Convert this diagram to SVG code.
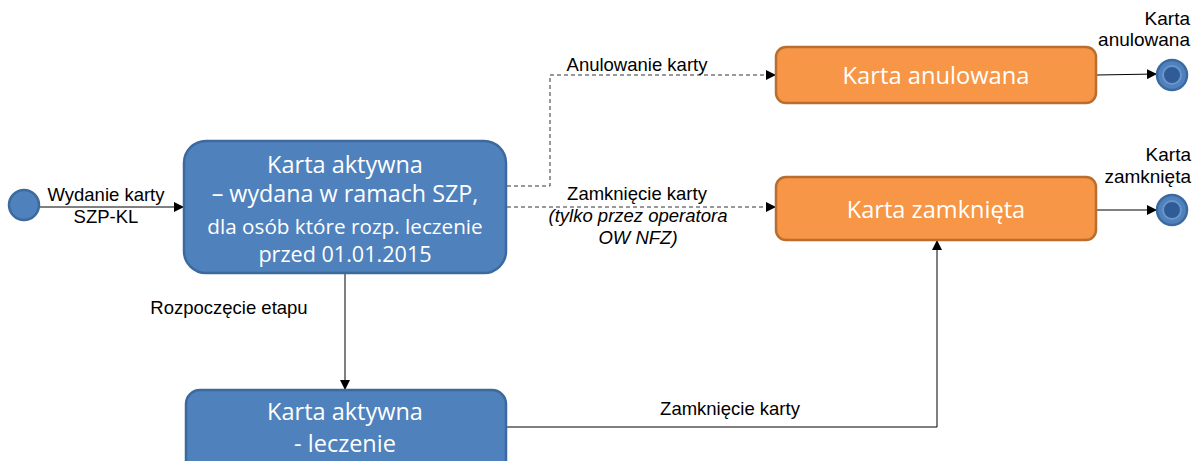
<svg xmlns="http://www.w3.org/2000/svg" width="1201" height="461" viewBox="0 0 1201 461">
<style>
.blue{fill:#4F81BD;stroke:#3C6A9E;stroke-width:2.5}
.orange{fill:#F79646;stroke:#B96E2F;stroke-width:2.5}
.nt{font-family:"Open Sans","Liberation Sans",sans-serif;fill:#fff;text-anchor:middle}
.lbl{font-family:"Liberation Sans",Arial,sans-serif;font-size:18.5px;fill:#000;text-anchor:middle}
.end{font-family:"Liberation Sans",Arial,sans-serif;font-size:19px;fill:#000;text-anchor:end}
.conn{fill:none;stroke:#000;stroke-width:1}
.dash{stroke:#333;stroke-dasharray:4,3}
</style>
<defs>
<marker id="arr" markerWidth="10" markerHeight="10" refX="9" refY="5" orient="auto" markerUnits="userSpaceOnUse">
<path d="M0,0 L10,5 L0,10 Z" fill="#000"/>
</marker>
</defs>
<g id="connectors">
<line class="conn" x1="39" y1="207" x2="183" y2="207" marker-end="url(#arr)"/>
<polyline class="conn dash" points="507,186 550,186 550,75 775,75" marker-end="url(#arr)"/>
<line class="conn dash" x1="507" y1="207" x2="775" y2="207" marker-end="url(#arr)"/>
<line class="conn" x1="345" y1="274" x2="345" y2="389" marker-end="url(#arr)"/>
<polyline class="conn" points="507,427 937,427 937,241" marker-end="url(#arr)"/>
<line class="conn" x1="1097" y1="75" x2="1156" y2="74" marker-end="url(#arr)"/>
<line class="conn" x1="1097" y1="210" x2="1156" y2="210" marker-end="url(#arr)"/>
<text class="lbl" x="106" y="201">Wydanie karty</text>
<text class="lbl" x="106" y="223">SZP-KL</text>
<text class="lbl" x="637" y="71">Anulowanie karty</text>
<text class="lbl" x="637" y="200">Zamknięcie karty</text>
<text class="lbl" x="638" y="222" font-style="italic">(tylko przez operatora</text>
<text class="lbl" x="638" y="244" font-style="italic">OW NFZ)</text>
<text class="lbl" x="229" y="314">Rozpoczęcie etapu</text>
<text class="lbl" x="730" y="415">Zamknięcie karty</text>
</g>
<g id="start">
<circle cx="24" cy="205" r="15" class="blue" stroke-width="2"/>
</g>
<g id="karta-aktywna-szp">
<rect x="184" y="141" width="322" height="132" rx="22" class="blue"/>
<text class="nt" x="345" y="173" font-size="23.5">Karta aktywna</text>
<text class="nt" x="345" y="202" font-size="23.3">– wydana w ramach SZP,</text>
<text class="nt" x="345" y="234" font-size="20.7">dla osób które rozp. leczenie</text>
<text class="nt" x="345" y="262" font-size="21.6">przed 01.01.2015</text>
</g>
<g id="karta-aktywna-leczenie">
<rect x="186" y="390" width="320" height="90" rx="14" class="blue"/>
<text class="nt" x="345" y="420" font-size="23.5">Karta aktywna</text>
<text class="nt" x="345" y="452" font-size="23.5">- leczenie</text>
</g>
<g id="karta-anulowana">
<rect x="776" y="47" width="320" height="56" rx="10" class="orange"/>
<text class="nt" x="936" y="84" font-size="23.7">Karta anulowana</text>
</g>
<g id="karta-zamknieta">
<rect x="776" y="177" width="320" height="63" rx="10" class="orange"/>
<text class="nt" x="936" y="218" font-size="23.6">Karta zamknięta</text>
</g>
<g id="end-anulowana">
<circle cx="1172" cy="75" r="15" class="blue" stroke-width="2"/>
<circle cx="1172" cy="75" r="9" fill="#2F5C96" stroke="#6A96CC" stroke-width="2"/>
<text class="end" x="1190" y="25">Karta</text>
<text class="end" x="1190" y="46">anulowana</text>
</g>
<g id="end-zamknieta">
<circle cx="1172" cy="210" r="15" class="blue" stroke-width="2"/>
<circle cx="1172" cy="210" r="9" fill="#2F5C96" stroke="#6A96CC" stroke-width="2"/>
<text class="end" x="1191" y="161">Karta</text>
<text class="end" x="1191" y="183">zamknięta</text>
</g>
</svg>
